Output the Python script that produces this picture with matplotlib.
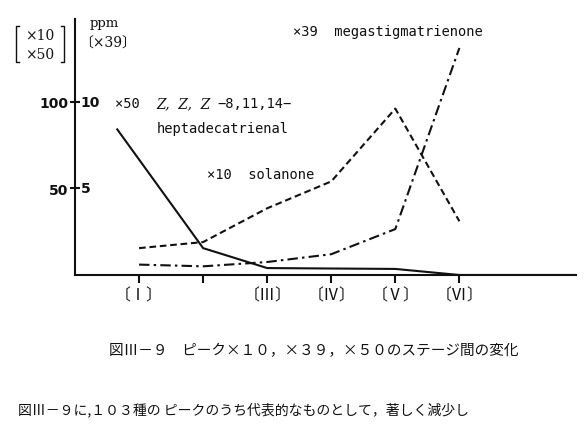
import numpy as np
import matplotlib.pyplot as plt
from matplotlib.lines import Line2D

# Datos (eje izquierdo, escala 0-150)
stage_labels = ["〔Ⅰ〕", "", "〔Ⅲ〕", "〔Ⅳ〕", "〔Ⅴ〕", "〔Ⅵ〕"]
stage_pos = [1, 2, 3, 4, 5, 6]

x50_x = [0.66, 2, 3, 5, 6, 7.82]
x50_y = [84, 15.5, 4, 3.5, 0, 0]          # Z,Z,Z-8,11,14-heptadecatrienal
x10_x = [1, 2, 3, 4, 5, 6]
x10_y = [15.5, 19, 38.5, 54, 96, 31]      # solanone
x39_x = [1, 2, 3, 4, 5, 6]
x39_y = [6, 5, 7.5, 12, 26.5, 131]        # megastigmatrienone

yticks = [50, 100]
yticks_left = ["50", "100"]
yticks_right = ["5", "10"]

W, H = 586, 431
fig = plt.figure(figsize=(W/100, H/100), dpi=100)
ax = fig.add_axes([75/W, 1-276/H, (576-75)/W, 256/H])

ink = "#111111"
lw = 1.5
ax.plot(x50_x, x50_y, color=ink, lw=lw, solid_joinstyle="miter")
ax.plot(x10_x, x10_y, color=ink, lw=lw, linestyle=(0, (3.2, 1.8)))
ax.plot(x39_x, x39_y, color=ink, lw=lw, linestyle=(0, (5, 2, 1.2, 2)))

ax.set_xlim(0, 7.82)
ax.set_ylim(0, 147.7)
for s in ["top", "right"]:
    ax.spines[s].set_visible(False)
for s in ["left", "bottom"]:
    ax.spines[s].set_linewidth(1.5)
    ax.spines[s].set_color(ink)

ax.set_xticks(stage_pos)
ax.set_xticklabels(stage_labels, family=["Noto Sans CJK JP"], fontsize=11.5, color=ink)
ax.tick_params(axis="x", direction="out", length=6, width=1.5, pad=2, color=ink)
ax.set_yticks(yticks)
ax.set_yticklabels(yticks_left, fontsize=10, fontweight="bold", color=ink)
ax.tick_params(axis="y", direction="inout", length=7, width=1.5, pad=1, color=ink)

for v, lab in zip(yticks, yticks_right):
    ax.annotate(lab, xy=(0, v), xycoords=("axes fraction", "data"),
                xytext=(4, 0), textcoords="offset points",
                ha="left", va="center", fontsize=10, fontweight="bold", color=ink)

mono = ["DejaVu Sans Mono", "Noto Sans CJK JP"]
fs = 9.9
ax.text(3.4, 141, "×39  megastigmatrienone", family=mono, fontsize=fs, color=ink, va="center")
ax.annotate("×50  ", xy=(0.62, 99), family=mono, fontsize=fs, color=ink, va="center")
ax.annotate("Z,  Z,  Z", xy=(0.62, 99), xytext=(30, 0), textcoords="offset points",
            family=["DejaVu Serif"], style="italic", fontsize=fs, color=ink, va="center")
ax.annotate("−8,11,14−", xy=(0.62, 99), xytext=(74, 0), textcoords="offset points",
            family=mono, fontsize=fs, color=ink, va="center")
ax.text(1.28, 85, "heptadecatrienal", family=mono, fontsize=fs, color=ink, va="center")
ax.text(2.06, 58.5, "×10  solanone", family=mono, fontsize=fs, color=ink, va="center")

# rotulos del eje y
fig.text(90/W, 1-24/H, "ppm", family=["DejaVu Serif"], fontsize=9.5, color=ink, va="center")
fig.text(79/W, 1-44/H, "〔×39〕", family=["DejaVu Serif", "Noto Sans CJK JP"], fontsize=10, color=ink, va="center")
fig.text(40/W, 1-36/H, "×10", family=["DejaVu Serif"], fontsize=10, color=ink, va="center", ha="center")
fig.text(40/W, 1-55/H, "×50", family=["DejaVu Serif"], fontsize=10, color=ink, va="center", ha="center")
for xs in ([19, 16, 16, 19], [61, 64, 64, 61]):
    fig.add_artist(Line2D(np.array(xs)/W, 1-np.array([27, 27, 63, 63])/H, color=ink, lw=1))

fig.text(314/W, 1-351/H, "図Ⅲ－９　ピーク×１０，×３９，×５０のステージ間の変化",
         family=["Noto Sans CJK JP"], fontsize=10.5, color=ink, ha="center", va="center")
fig.text(18/W, 1-410/H, "図Ⅲ－９に,１０３種の ピークのうち代表的なものとして，著しく減少し",
         family=["Noto Sans CJK JP"], fontsize=10, color=ink, ha="left", va="center")

fig.savefig("out.png", dpi=100, facecolor="white")
